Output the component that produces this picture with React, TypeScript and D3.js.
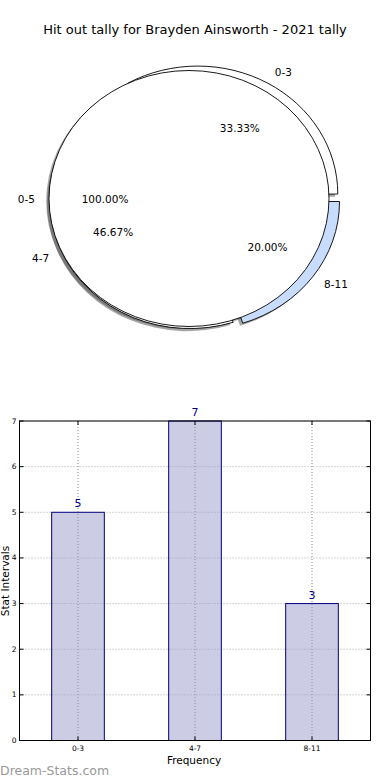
import React from "react";
import * as d3 from "d3";

const TITLE = "Hit out tally for Brayden Ainsworth - 2021 tally";
const pieCategories = ["0-3", "4-7", "8-11"];
const pieValues = [5, 7, 3];
const pieColors = ["#ffffff", "#ffffff", "#c8dcfd"];
const totalCategories = ["0-5"];
const totalValues = [15];
const totalColors = ["#ffffff"];
const barCategories = ["0-3", "4-7", "8-11"];
const barValues = [5, 7, 3];
const yTicks = [0, 1, 2, 3, 4, 5, 6, 7];

const FONT = "'DejaVu Sans', sans-serif";
const W = 390, H = 780;

// pie layout
const CX = 189, CY = 198.5, RX = 140, RY = 128;
const SLICE_SHIFT = 6;
const EXPLODE = 0.04;
const SH_DX = -2.8, SH_DY = 2.6;

// bar layout
const AX_L = 19.5, AX_R = 370.5, AX_T = 421, AX_B = 740.5;

type Wedge = {
  d: string;
  ox: number;
  oy: number;
  mx: number;
  my: number;
  color: string;
  label: string;
  pct: string;
};

function makeWedges(values: number[], cats: string[], colors: string[], shift: number, explode: number): Wedge[] {
  const total = d3.sum(values);
  const pie = d3.pie<number>().sort(null).startAngle(Math.PI / 2).endAngle(Math.PI / 2 - 2 * Math.PI);
  const arc = d3.arc<any>().innerRadius(0).outerRadius(1);
  return pie(values).map((p, i) => {
    const mid = (p.startAngle + p.endAngle) / 2;
    const mx = Math.sin(mid), my = -Math.cos(mid);
    return {
      d: arc({ startAngle: p.startAngle, endAngle: p.endAngle }) as string,
      ox: shift + explode * RX * mx,
      oy: explode * RY * my,
      mx, my,
      color: colors[i],
      label: cats[i],
      pct: ((values[i] / total) * 100).toFixed(2) + "%",
    };
  });
}

export default function App() {
  const slices = makeWedges(pieValues, pieCategories, pieColors, SLICE_SHIFT, EXPLODE);
  const totals = makeWedges(totalValues, totalCategories, totalColors, 0, 0);
  const all = [...slices, ...totals];

  const x = d3.scaleLinear().domain([-0.5, 2.5]).range([AX_L, AX_R]);
  const y = d3.scaleLinear().domain([0, 7]).range([AX_B, AX_T]);
  const bw = 0.45;

  const wedgePath = (w: Wedge, shadow: boolean, key: string) => (
    <g key={key} transform={`translate(${CX + w.ox + (shadow ? SH_DX : 0)},${CY + w.oy + (shadow ? SH_DY : 0)}) scale(${RX},${RY})`}>
      <path
        d={w.d}
        fill={shadow ? "rgba(77,77,77,0.5)" : w.color}
        stroke={shadow ? "none" : "#000"}
        strokeWidth={0.9}
        vectorEffect="non-scaling-stroke"
        strokeLinejoin="round"
      />
    </g>
  );

  return (
    <svg width={W} height={H} style={{ position: "absolute", left: 0, top: 0, background: "#fff" }} fontFamily={FONT}>
      <rect x={0} y={0} width={W} height={H} fill="#fff" />
      <text x={195} y={34} textAnchor="middle" fontSize={13} fill="#000">{TITLE}</text>

      {/* shadows */}
      {all.map((w, i) => wedgePath(w, true, "s" + i))}
      {slices.map((w, i) => wedgePath(w, false, "w" + i))}
      {totals.map((w, i) => wedgePath(w, false, "t" + i))}

      {all.map((w, i) => (
        <g key={"l" + i} fontSize={10.5} fill="#000">
          <text
            x={CX + w.ox + 1.1 * RX * w.mx}
            y={CY + w.oy + 1.1 * RY * w.my}
            textAnchor={w.mx > 0 ? "start" : "end"}
            dominantBaseline="central"
          >{w.label}</text>
          <text
            x={CX + w.ox + 0.6 * RX * w.mx}
            y={CY + w.oy + 0.6 * RY * w.my}
            textAnchor="middle"
            dominantBaseline="central"
          >{w.pct}</text>
        </g>
      ))}

      {/* bar chart */}
      <g>
        {yTicks.map((t) => (
          <line key={"gy" + t} x1={AX_L} x2={AX_R} y1={y(t)} y2={y(t)} stroke="#aaaaaa" strokeWidth={1} strokeDasharray="1,2" />
        ))}
        {barCategories.map((c, i) => (
          <line key={"gx" + c} x1={x(i)} x2={x(i)} y1={AX_T} y2={AX_B} stroke="#aaaaaa" strokeWidth={1} strokeDasharray="1,2" />
        ))}
        {barValues.map((v, i) => (
          <rect
            key={"b" + i}
            x={x(i - bw / 2)}
            y={y(v)}
            width={x(bw) - x(0)}
            height={y(0) - y(v)}
            fill="rgba(153,153,204,0.5)"
            stroke="#000080"
            strokeWidth={1}
          />
        ))}
        {barCategories.map((c, i) => (
          <line key={"gx2" + c} x1={x(i)} x2={x(i)} y1={AX_T} y2={AX_B} stroke="#999999" strokeWidth={1} strokeDasharray="1,2" opacity={0.6} />
        ))}
        {barValues.map((v, i) => (
          <text key={"v" + i} x={x(i)} y={y(v) - 5} textAnchor="middle" fontSize={11} fill="#00008b">{v}</text>
        ))}
        <rect x={AX_L} y={AX_T} width={AX_R - AX_L} height={AX_B - AX_T} fill="none" stroke="#000" strokeWidth={1} />
        {yTicks.map((t) => (
          <g key={"ty" + t}>
            <line x1={AX_L} x2={AX_L + 4} y1={y(t)} y2={y(t)} stroke="#000" />
            <line x1={AX_R - 4} x2={AX_R} y1={y(t)} y2={y(t)} stroke="#000" />
            <text x={AX_L - 3} y={y(t)} textAnchor="end" dominantBaseline="central" fontSize={7.5} fill="#000">{t}</text>
          </g>
        ))}
        {barCategories.map((c, i) => (
          <g key={"tx" + c}>
            <line x1={x(i)} x2={x(i)} y1={AX_B} y2={AX_B - 4} stroke="#000" />
            <line x1={x(i)} x2={x(i)} y1={AX_T} y2={AX_T + 4} stroke="#000" />
            <text x={x(i)} y={AX_B + 10} textAnchor="middle" fontSize={7.5} fill="#000">{c}</text>
          </g>
        ))}
        <text x={194} y={764} textAnchor="middle" fontSize={10.5} fill="#000">Frequency</text>
        <text transform={`translate(9,581) rotate(-90)`} textAnchor="middle" fontSize={10.5} fill="#000">Stat Intervals</text>
      </g>
      <text x={0} y={775} fontSize={12.5} fill="#999999">Dream-Stats.com</text>
    </svg>
  );
}
